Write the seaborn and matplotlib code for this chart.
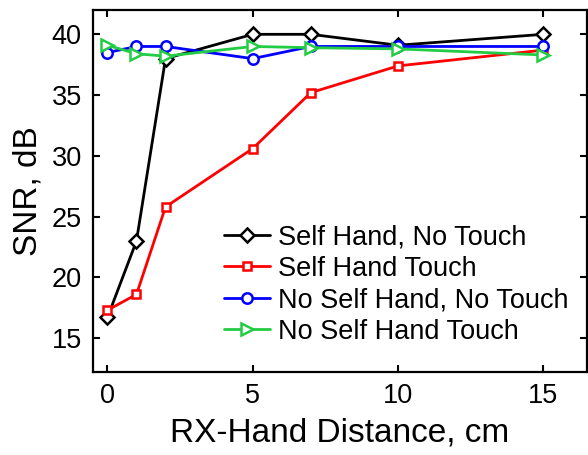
import matplotlib
matplotlib.use("Agg")
import matplotlib.pyplot as plt
import seaborn as sns
import pandas as pd

distance = [0, 1, 2, 5, 7, 10, 15]
self_hand_no_touch = [16.7, 23.0, 38.0, 40.0, 40.0, 39.1, 40.0]
self_hand_touch = [17.3, 18.6, 25.8, 30.6, 35.2, 37.4, 38.7]
no_self_hand_no_touch = [38.5, 39.0, 39.0, 38.0, 39.0, 39.0, 39.0]
no_self_hand_touch = [39.1, 38.4, 38.2, 39.0, 38.9, 38.8, 38.3]

series_names = ["Self Hand, No Touch", "Self Hand Touch",
                "No Self Hand, No Touch", "No Self Hand Touch"]
series_values = [self_hand_no_touch, self_hand_touch,
                 no_self_hand_no_touch, no_self_hand_touch]
colors = ["#000000", "#ff0000", "#0000ff", "#22cc44"]
markers = ["D", "s", "o", ">"]
msizes = [7, 6, 7.5, 9]

rows = []
for name, vals in zip(series_names, series_values):
    for d, v in zip(distance, vals):
        rows.append({"distance": d, "snr": v, "series": name})
df = pd.DataFrame(rows)

sns.set_style("ticks")
plt.rcParams["font.family"] = ["Liberation Sans", "DejaVu Sans"]
plt.rcParams["text.color"] = "black"
plt.rcParams["axes.labelcolor"] = "black"
plt.rcParams["xtick.color"] = "black"
plt.rcParams["ytick.color"] = "black"

fig = plt.figure(figsize=(5.88, 4.55), dpi=100)
ax = fig.add_axes([0.158, 0.182, 0.840, 0.796])

for name, c, m, ms in zip(series_names, colors, markers, msizes):
    sub = df[df["series"] == name]
    sns.lineplot(data=sub, x="distance", y="snr", ax=ax, color=c,
                 marker=m, markersize=ms, markerfacecolor="white",
                 markeredgecolor=c, markeredgewidth=1.8, linewidth=2.0,
                 label=name, estimator=None, sort=False)

ax.set_xlim(-0.5, 16.5)
ax.set_ylim(12.2, 42)
ax.set_xticks([0, 5, 10, 15])
ax.set_yticks([15, 20, 25, 30, 35, 40])
for s in ax.spines.values():
    s.set_visible(True)
    s.set_linewidth(1.6)
    s.set_color("black")
ax.tick_params(direction="in", top=True, right=True, length=5, width=1.5,
               labelsize=19.5, pad=8, colors="black")
ax.set_xlabel("RX-Hand Distance, cm", fontsize=24, labelpad=6, color="black")
ax.set_ylabel("SNR, dB", fontsize=24, labelpad=6, color="black")

leg = ax.legend(loc="upper left", bbox_to_anchor=(0.265, 0.408), frameon=False,
                fontsize=19.5, handlelength=1.7, handletextpad=0.3,
                labelspacing=0.2, borderpad=0, borderaxespad=0)
for t in leg.get_texts():
    t.set_color("black")

fig.savefig("out.png", dpi=100)
